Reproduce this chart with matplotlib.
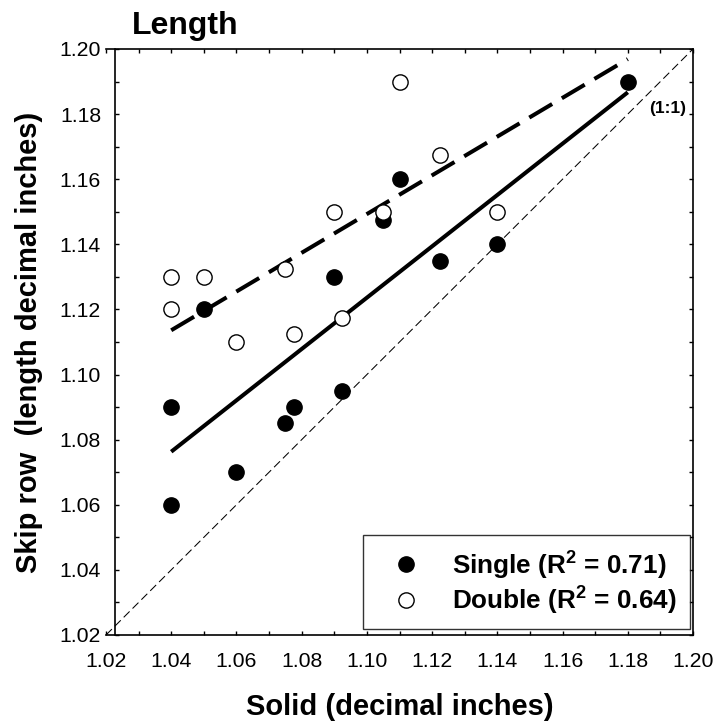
import numpy as np
import matplotlib
matplotlib.use("Agg")
import matplotlib.pyplot as plt

plt.rcParams['font.family'] = ['Liberation Sans', 'DejaVu Sans']
plt.rcParams['mathtext.fontset'] = 'custom'
plt.rcParams['mathtext.bf'] = 'Liberation Sans:bold'
plt.rcParams['mathtext.rm'] = 'Liberation Sans:bold'

# Single row (filled)
single_x = [1.04, 1.04, 1.05, 1.06, 1.075, 1.0775, 1.09, 1.0925, 1.105, 1.11, 1.1225, 1.14, 1.18]
single_y = [1.09, 1.06, 1.12, 1.07, 1.085, 1.09, 1.13, 1.095, 1.1475, 1.16, 1.135, 1.14, 1.19]

# Double row (open)
double_x = [1.04, 1.04, 1.05, 1.06, 1.075, 1.0775, 1.09, 1.0925, 1.105, 1.11, 1.1225, 1.14]
double_y = [1.13, 1.12, 1.13, 1.11, 1.1325, 1.1125, 1.15, 1.1175, 1.15, 1.19, 1.1675, 1.15]

# regression lines as drawn (ends)
fit_x = [1.04, 1.18]
single_fit = [1.0763, 1.1867]
double_fit = [1.1136, 1.1969]

ticks = [1.02, 1.04, 1.06, 1.08, 1.10, 1.12, 1.14, 1.16, 1.18, 1.20]

fig = plt.figure(figsize=(7.18, 7.27), dpi=100)
ax = fig.add_axes([106/718, 1 - 635/727, 587/718, 586/727])

# 1:1 line
ax.plot([1.02, 1.20], [1.02, 1.20], color='black', lw=0.75, dashes=(8, 4), zorder=1)
ax.text(1.1866, 1.1817, '(1:1)', fontsize=12.5, fontweight='bold', va='center', ha='left')

ax.plot(fit_x, single_fit, color='black', lw=2.9, solid_capstyle='butt', zorder=2)
ax.plot(fit_x, double_fit, color='black', lw=2.9, dashes=(6.6, 2.8), dash_capstyle='butt', zorder=2)

ax.plot(single_x, single_y, 'o', ms=11, mfc='black', mec='black', mew=1, ls='none', zorder=3,
        label=r'Single (R$^{\mathbf{2}}$ = 0.71)')
ax.plot(double_x, double_y, 'o', ms=11, mfc='white', mec='black', mew=1, ls='none', zorder=3,
        label=r'Double (R$^{\mathbf{2}}$ = 0.64)')

ax.set_xlim(1.02, 1.20)
ax.set_ylim(1.02, 1.20)
ax.set_xticks(ticks)
ax.set_yticks(ticks)
ax.set_xticklabels([f'{t:.2f}' for t in ticks])
ax.set_yticklabels([f'{t:.2f}' for t in ticks])
ax.set_xticks(np.arange(1.03, 1.20, 0.02), minor=True)
ax.set_yticks(np.arange(1.03, 1.20, 0.02), minor=True)
ax.tick_params(which='both', direction='in', top=True, right=True, length=3, width=1, labelsize=15.3)
ax.tick_params(axis='x', pad=12)
ax.tick_params(axis='y', pad=10)
for s in ax.spines.values():
    s.set_linewidth(1.2)
ax.spines['left'].set_position(('data', 1.02275))

ax.set_xlabel('Solid (decimal inches)', fontsize=21, fontweight='bold')
ax.xaxis.set_label_coords(0.5, -0.1365)
ax.xaxis.label.set_va('baseline')
ax.set_ylabel('Skip row  (length decimal inches)', fontsize=21, fontweight='bold')
ax.yaxis.set_label_coords(-0.107, 0.5)

fig.text(132/718, 1 - 34/727, 'Length', fontsize=23, fontweight='bold', va='baseline', ha='left')

leg = ax.legend(loc='lower right', bbox_to_anchor=(0.995, 0.010),
                prop={'weight': 'bold', 'size': 18.8}, frameon=True, fancybox=False,
                edgecolor='black', borderpad=0.5, handletextpad=0.62, labelspacing=0.1,
                borderaxespad=0, handlelength=2.3)
leg.get_frame().set_linewidth(1)

fig.savefig('out.png', dpi=100)
